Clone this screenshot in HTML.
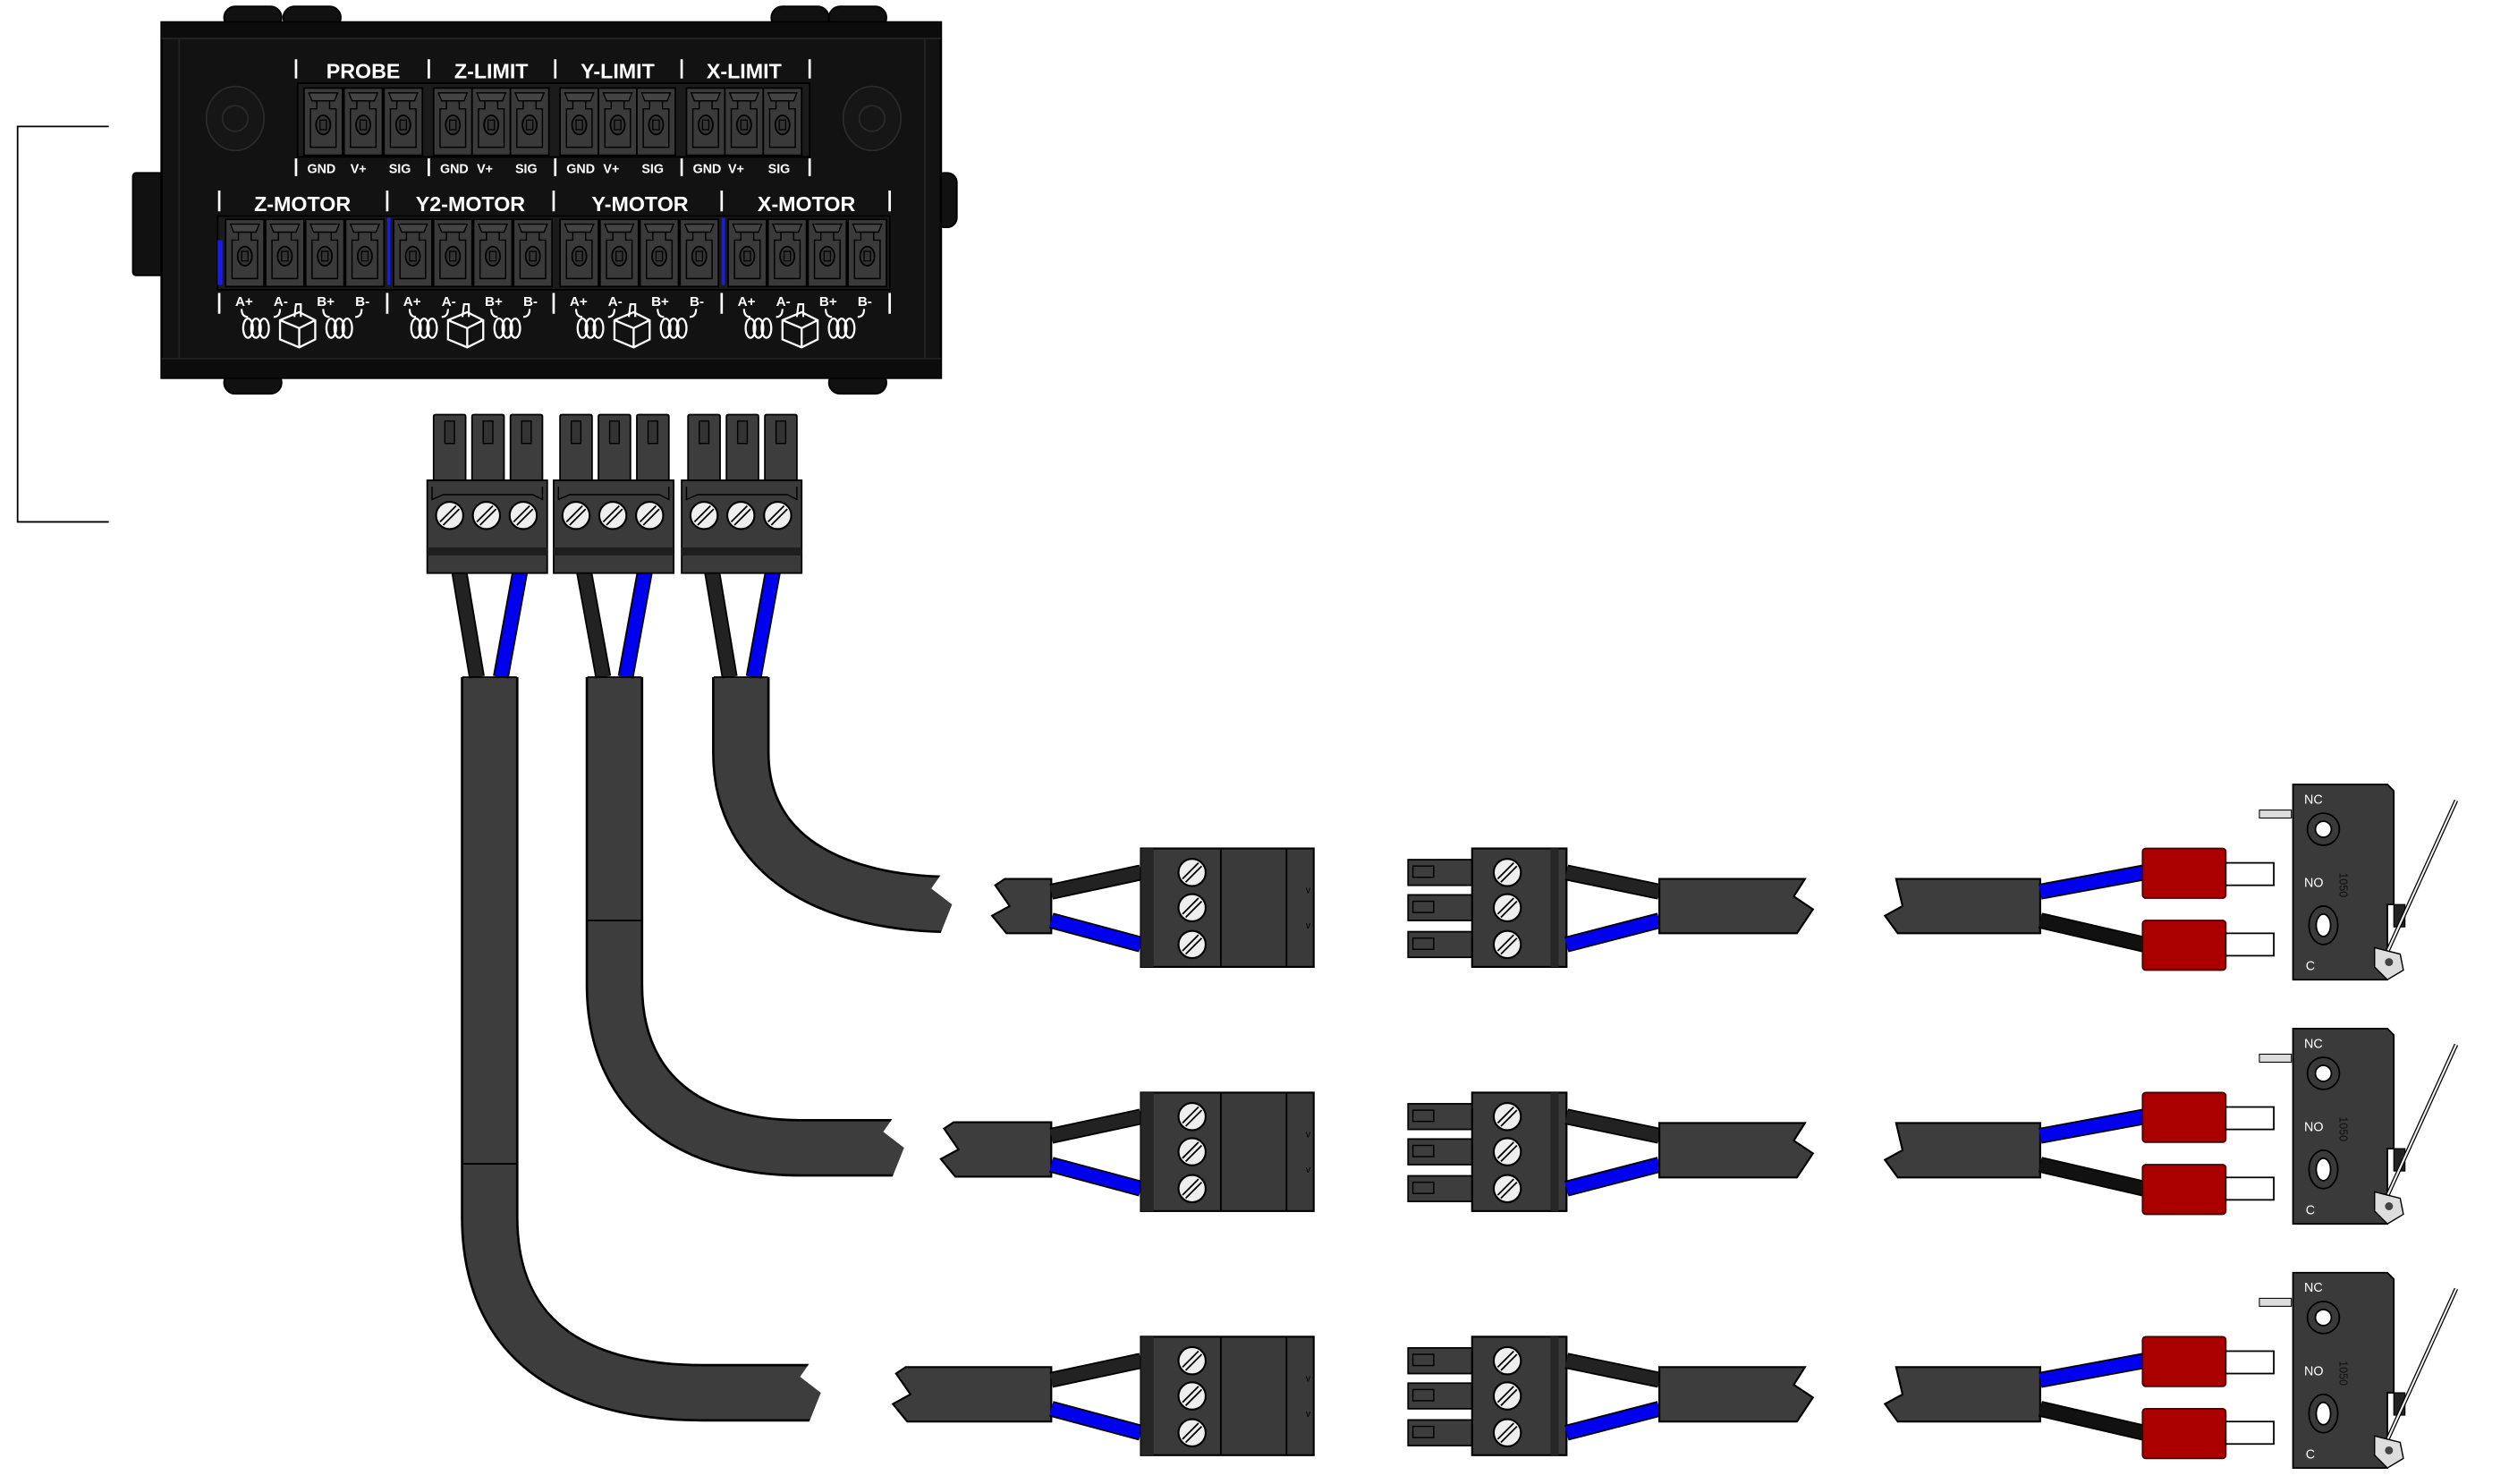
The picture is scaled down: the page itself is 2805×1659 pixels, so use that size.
<!DOCTYPE html>
<html><head><meta charset="utf-8"><style>
html,body{margin:0;padding:0;background:#fff;}
svg{display:block;}
text{font-family:"Liberation Sans",sans-serif;}
</style></head><body>
<svg width="2805" height="1659" viewBox="0 0 1568 927" preserveAspectRatio="none" xmlns="http://www.w3.org/2000/svg">
<defs>
 <g id="hpin">
  <rect x="1" y="1" width="24" height="42" fill="#3a3a3a" stroke="#000" stroke-width="1"/>
  <path d="M4 4 H22 L20 9 H6 Z" fill="#444" stroke="#000" stroke-width="0.8"/>
  <path d="M9 9 V14 H5 V38 H21 V14 H17 V9" fill="none" stroke="#000" stroke-width="0.8"/>
  <ellipse cx="13" cy="24" rx="4.5" ry="6" fill="#333" stroke="#000" stroke-width="1"/>
  <rect x="11" y="21" width="4" height="6" fill="none" stroke="#000" stroke-width="0.7"/>
 </g>
 <g id="screw">
  <circle r="8.5" fill="#eee" stroke="#000" stroke-width="1.2"/>
  <path d="M-6 4 L4 -6 M-4 6 L6 -4" stroke="#000" stroke-width="1"/>
 </g>
 <g id="coil" fill="none" stroke="#fff" stroke-width="1.3">
  <ellipse cx="0" cy="0" rx="3" ry="6"/><ellipse cx="5" cy="0" rx="3" ry="6"/><ellipse cx="10" cy="0" rx="3" ry="6"/>
 </g>
 <g id="motoricon">
  <text x="12" y="191" font-size="8.5" fill="#fff" font-weight="bold">A+</text>
  <text x="36" y="191" font-size="8.5" fill="#fff" font-weight="bold">A-</text>
  <text x="63" y="191" font-size="8.5" fill="#fff" font-weight="bold">B+</text>
  <text x="87" y="191" font-size="8.5" fill="#fff" font-weight="bold">B-</text>
  <path d="M16 193 Q16 198 20 198 M40 193 Q40 198 36 198 M67 193 Q67 198 71 198 M91 193 Q91 198 87 198" fill="none" stroke="#fff" stroke-width="1.2"/>
  <use href="#coil" x="20" y="205"/>
  <use href="#coil" x="72" y="205"/>
  <path d="M40 200 L52 195 L62 200 L62 212 L52 217 L40 212 Z M40 200 L52 205 L62 200 M52 205 V217" fill="none" stroke="#fff" stroke-width="1.3"/>
  <path d="M49 198 L50 190 L53 190 L53 198" fill="none" stroke="#fff" stroke-width="1.2"/>
 </g>
 <g id="plug">
  <rect x="4" y="0" width="20" height="42" rx="1" fill="#3d3d3d" stroke="#000"/>
  <rect x="28" y="0" width="20" height="42" rx="1" fill="#3d3d3d" stroke="#000"/>
  <rect x="52" y="0" width="20" height="42" rx="1" fill="#3d3d3d" stroke="#000"/>
  <rect x="11" y="4" width="6" height="14" fill="#333" stroke="#000" stroke-width="0.8"/>
  <rect x="35" y="4" width="6" height="14" fill="#333" stroke="#000" stroke-width="0.8"/>
  <rect x="59" y="4" width="6" height="14" fill="#333" stroke="#000" stroke-width="0.8"/>
  <rect x="0" y="41" width="75" height="58" fill="#3a3a3a" stroke="#000"/>
  <rect x="0" y="83" width="75" height="5" fill="#1e1e1e"/>
  <path d="M3 45 V53 L10 50 H66 L72 53 V45" fill="none" stroke="#000" stroke-width="0.8"/>
  <use href="#screw" x="14" y="63"/><use href="#screw" x="37" y="63"/><use href="#screw" x="60" y="63"/>
 </g>
 <g id="row">
  <path d="M657 557 L713 545" stroke="#000" stroke-width="10"/><path d="M657 557 L713 545" stroke="#222" stroke-width="8"/>
  <path d="M657 575 L713 590" stroke="#000" stroke-width="10"/><path d="M657 575 L713 590" stroke="#0000ee" stroke-width="8"/>
  <rect x="713" y="530" width="108" height="74" fill="#3a3a3a" stroke="#000" stroke-width="1.2"/>
  <rect x="713" y="530" width="8" height="74" fill="#262626"/>
  <line x1="763" y1="530" x2="763" y2="604" stroke="#000" stroke-width="1"/>
  <line x1="804" y1="530" x2="804" y2="604" stroke="#000" stroke-width="1"/>
  <use href="#screw" x="745" y="545"/><use href="#screw" x="745" y="567"/><use href="#screw" x="745" y="590"/>
  <text x="816" y="558" font-size="6" fill="#000">v</text><text x="816" y="580" font-size="6" fill="#000">v</text>
  <rect x="880" y="537" width="44" height="16" fill="#3d3d3d" stroke="#000"/>
  <rect x="880" y="559" width="44" height="16" fill="#3d3d3d" stroke="#000"/>
  <rect x="880" y="582" width="44" height="16" fill="#3d3d3d" stroke="#000"/>
  <rect x="883" y="541" width="13" height="7" fill="none" stroke="#000" stroke-width="0.8"/>
  <rect x="883" y="563" width="13" height="7" fill="none" stroke="#000" stroke-width="0.8"/>
  <rect x="883" y="586" width="13" height="7" fill="none" stroke="#000" stroke-width="0.8"/>
  <rect x="920" y="530" width="59" height="74" fill="#3a3a3a" stroke="#000" stroke-width="1.2"/>
  <rect x="969" y="530" width="5" height="74" fill="#262626"/>
  <use href="#screw" x="942" y="545"/><use href="#screw" x="942" y="567"/><use href="#screw" x="942" y="590"/>
  <path d="M979 545 L1037 557" stroke="#000" stroke-width="10"/><path d="M979 545 L1037 557" stroke="#222" stroke-width="8"/>
  <path d="M979 590 L1037 575" stroke="#000" stroke-width="10"/><path d="M979 590 L1037 575" stroke="#0000ee" stroke-width="8"/>
  <path d="M1037 549 H1128 L1121 560 L1133 568 L1123 583 H1037 Z" fill="#3d3d3d" stroke="#000" stroke-width="1.2"/>
  <path d="M1185 549 H1275 V583 H1186 L1178 572 L1189 566 Z" fill="#3d3d3d" stroke="#000" stroke-width="1.2"/>
  <path d="M1275 557 L1340 545" stroke="#000" stroke-width="10"/><path d="M1275 557 L1340 545" stroke="#0000ee" stroke-width="8"/>
  <path d="M1275 575 L1340 590" stroke="#000" stroke-width="10"/><path d="M1275 575 L1340 590" stroke="#111" stroke-width="8"/>
  <rect x="1339" y="530" width="52" height="31" rx="2" fill="#aa0000" stroke="#400" stroke-width="1"/>
  <rect x="1339" y="575" width="52" height="31" rx="2" fill="#aa0000" stroke="#400" stroke-width="1"/>
  <rect x="1391" y="539" width="30" height="14" fill="#fff" stroke="#000"/>
  <rect x="1391" y="583" width="30" height="14" fill="#fff" stroke="#000"/>
  <rect x="1412" y="506" width="20" height="5" fill="#ddd" stroke="#000" stroke-width="0.6"/>
  <path d="M1433 490 H1492 L1496 494 V565 H1492 V612 H1433 Z" fill="#3a3a3a" stroke="#000" stroke-width="1"/>
  <rect x="1496" y="565" width="7" height="14" fill="#222" stroke="#000" stroke-width="0.6"/>
  <circle cx="1452" cy="518" r="10" fill="none" stroke="#000" stroke-width="1"/>
  <circle cx="1452" cy="518" r="5" fill="#fff" stroke="#000"/>
  <ellipse cx="1452" cy="578" rx="9" ry="12" fill="none" stroke="#000" stroke-width="1"/>
  <ellipse cx="1452" cy="578" rx="4.5" ry="7" fill="#fff" stroke="#000"/>
  <text x="1440" y="502" font-size="8" fill="#fff">NC</text>
  <text x="1440" y="554" font-size="8" fill="#fff">NO</text>
  <text x="1441" y="606" font-size="8" fill="#fff">C</text>
  <text x="1462" y="545" font-size="7" fill="#111" transform="rotate(90 1462 545)">1050</text>
  <path d="M1489 601 L1535 500" stroke="#000" stroke-width="2.6"/>
  <path d="M1489 601 L1535 500" stroke="#eee" stroke-width="1.2"/>
  <path d="M1484 592 L1500 596 L1502 606 L1492 612 L1484 604 Z" fill="#ddd" stroke="#000" stroke-width="0.8"/>
  <circle cx="1493" cy="601" r="2.5" fill="#444"/>
 </g>
</defs>

<path d="M68 79 H11 V326 H68" fill="none" stroke="#000" stroke-width="1"/>

<g fill="#111" stroke="#000">
 <rect x="140" y="4" width="36" height="14" rx="7"/><rect x="177" y="4" width="36" height="14" rx="7"/>
 <rect x="482" y="4" width="36" height="14" rx="7"/><rect x="518" y="4" width="36" height="14" rx="7"/>
 <rect x="140" y="232" width="36" height="14" rx="7"/><rect x="518" y="232" width="36" height="14" rx="7"/>
 <rect x="83" y="108" width="22" height="64" rx="2"/>
 <rect x="584" y="108" width="14" height="34" rx="6"/>
</g>
<rect x="101" y="14" width="487" height="222" fill="#121212" stroke="#000" stroke-width="1.5"/>
<rect x="101" y="14" width="487" height="10" fill="#0c0c0c"/>
<rect x="101" y="224" width="487" height="12" fill="#0c0c0c"/>
<line x1="101" y1="24" x2="588" y2="24" stroke="#222"/>
<line x1="101" y1="224" x2="588" y2="224" stroke="#222"/>
<line x1="112" y1="24" x2="112" y2="224" stroke="#222"/>
<line x1="578" y1="24" x2="578" y2="224" stroke="#222"/>
<g fill="#161616" stroke="#2a2a2a" stroke-width="1">
 <ellipse cx="147" cy="74" rx="18" ry="20"/><ellipse cx="545" cy="74" rx="18" ry="20"/>
 <circle cx="147" cy="74" r="8"/><circle cx="545" cy="74" r="8"/>
</g>

<g fill="#fff" font-size="13" font-weight="bold" text-anchor="middle">
 <text x="227" y="49">PROBE</text><text x="307" y="49">Z-LIMIT</text>
 <text x="386" y="49">Y-LIMIT</text><text x="465" y="49">X-LIMIT</text>
 <text x="189" y="132">Z-MOTOR</text><text x="294" y="132">Y2-MOTOR</text>
 <text x="400" y="132">Y-MOTOR</text><text x="504" y="132">X-MOTOR</text>
</g>
<g stroke="#fff" stroke-width="1.5">
 <path d="M185 37 V49 M268 37 V49 M347 37 V49 M426 37 V49 M506 37 V49"/>
 <path d="M185 99 V110 M268 99 V110 M347 99 V110 M426 99 V110 M506 99 V110"/>
 <path d="M137 119 V132 M242 119 V132 M346 119 V132 M451 119 V132 M556 119 V132"/>
 <path d="M137 183 V196 M242 183 V196 M346 183 V196 M451 183 V196 M556 183 V196"/>
</g>
<rect x="186" y="52" width="320" height="46" fill="#1b1b1b" stroke="#000"/>
<g>
 <use href="#hpin" x="189" y="54"/><use href="#hpin" x="214" y="54"/><use href="#hpin" x="239" y="54"/>
 <use href="#hpin" x="270" y="54"/><use href="#hpin" x="294" y="54"/><use href="#hpin" x="318" y="54"/>
 <use href="#hpin" x="349" y="54"/><use href="#hpin" x="373" y="54"/><use href="#hpin" x="397" y="54"/>
 <use href="#hpin" x="428" y="54"/><use href="#hpin" x="452" y="54"/><use href="#hpin" x="476" y="54"/>
</g>
<g fill="#fff" font-size="8" font-weight="bold">
 <text x="192" y="108">GND</text><text x="219" y="108">V+</text><text x="243" y="108">SIG</text>
 <text x="275" y="108">GND</text><text x="298" y="108">V+</text><text x="322" y="108">SIG</text>
 <text x="354" y="108">GND</text><text x="377" y="108">V+</text><text x="401" y="108">SIG</text>
 <text x="433" y="108">GND</text><text x="455" y="108">V+</text><text x="480" y="108">SIG</text>
</g>
<rect x="136" y="135" width="420" height="46" fill="#1b1b1b" stroke="#000"/>
<rect x="136" y="150" width="3" height="28" fill="#1a1aee"/>
<rect x="242" y="136" width="2" height="42" fill="#1a1aee"/>
<rect x="451" y="136" width="2" height="42" fill="#1a1aee"/>
<g>
 <use href="#hpin" x="140" y="136"/><use href="#hpin" x="165" y="136"/><use href="#hpin" x="190" y="136"/><use href="#hpin" x="215" y="136"/>
 <use href="#hpin" x="245" y="136"/><use href="#hpin" x="270" y="136"/><use href="#hpin" x="295" y="136"/><use href="#hpin" x="320" y="136"/>
 <use href="#hpin" x="349" y="136"/><use href="#hpin" x="374" y="136"/><use href="#hpin" x="399" y="136"/><use href="#hpin" x="424" y="136"/>
 <use href="#hpin" x="454" y="136"/><use href="#hpin" x="479" y="136"/><use href="#hpin" x="504" y="136"/><use href="#hpin" x="529" y="136"/>
</g>
<use href="#motoricon" x="135" y="0"/>
<use href="#motoricon" x="240" y="0"/>
<use href="#motoricon" x="344" y="0"/>
<use href="#motoricon" x="449" y="0"/>

<g fill="none" stroke-linecap="butt">
 <path d="M306 423 V760 C306 845 370 870 440 870 H515" stroke="#000" stroke-width="36"/>
 <path d="M306 423 V760 C306 845 370 870 440 870 H515" stroke="#3d3d3d" stroke-width="33"/>
 <path d="M384 423 V615 C384 690 440 717 500 717 H567" stroke="#000" stroke-width="36"/>
 <path d="M384 423 V615 C384 690 440 717 500 717 H567" stroke="#3d3d3d" stroke-width="33"/>
 <path d="M463 423 V470 C463 535 520 565 597 565" stroke="#000" stroke-width="36"/>
 <path d="M463 423 V470 C463 535 520 565 597 565" stroke="#3d3d3d" stroke-width="33"/>
</g>
<line x1="289" y1="727" x2="323" y2="727" stroke="#000"/>
<line x1="367" y1="575" x2="401" y2="575" stroke="#000"/>
<g fill="#fff">
 <path d="M510 850 L507 850 L500 860 L513 870 L505 890 L540 890 L540 850 Z"/>
 <path d="M562 697 L559 697 L552 707 L565 717 L557 737 L590 737 L590 697 Z"/>
 <path d="M592 545 L589 545 L582 555 L595 565 L587 585 L620 585 L620 545 Z"/>
</g>
<g>
 <path d="M287 357 L298 423" stroke="#000" stroke-width="10"/><path d="M287 357 L298 423" stroke="#222" stroke-width="8"/>
 <path d="M325 357 L313 423" stroke="#000" stroke-width="10"/><path d="M325 357 L313 423" stroke="#0000ee" stroke-width="8"/>
 <path d="M365 357 L377 423" stroke="#000" stroke-width="10"/><path d="M365 357 L377 423" stroke="#222" stroke-width="8"/>
 <path d="M403 357 L391 423" stroke="#000" stroke-width="10"/><path d="M403 357 L391 423" stroke="#0000ee" stroke-width="8"/>
 <path d="M445 357 L456 423" stroke="#000" stroke-width="10"/><path d="M445 357 L456 423" stroke="#222" stroke-width="8"/>
 <path d="M483 357 L471 423" stroke="#000" stroke-width="10"/><path d="M483 357 L471 423" stroke="#0000ee" stroke-width="8"/>
</g>
<line x1="289" y1="423" x2="323" y2="423" stroke="#000"/>
<line x1="367" y1="423" x2="401" y2="423" stroke="#000"/>
<line x1="446" y1="423" x2="480" y2="423" stroke="#000"/>
<use href="#plug" x="267" y="259"/>
<use href="#plug" x="346" y="259"/>
<use href="#plug" x="426" y="259"/>

<path d="M628 549 H657 V583 H629 L620 572 L631 566 L622 553 Z" fill="#3d3d3d" stroke="#000" stroke-width="1.2"/>
<use href="#row"/>
<path d="M596 701 H657 V735 H597 L588 724 L599 718 L590 705 Z" fill="#3d3d3d" stroke="#000" stroke-width="1.2"/>
<use href="#row" y="152.5"/>
<path d="M566 854 H657 V888 H567 L558 877 L569 871 L560 858 Z" fill="#3d3d3d" stroke="#000" stroke-width="1.2"/>
<use href="#row" y="305"/>
</svg>
</body></html>
